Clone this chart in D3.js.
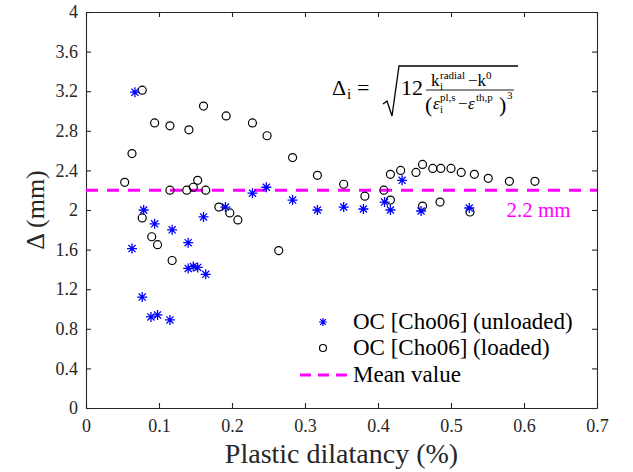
<!DOCTYPE html>
<html>
<head>
<meta charset="utf-8">
<script src="https://cdn.jsdelivr.net/npm/d3@7"></script>
<style>
  html, body { margin: 0; padding: 0; background: #fff; }
  svg text { font-family: 'Liberation Serif', 'Times New Roman', serif; }
</style>
</head>
<body>
<svg id="chart" width="633" height="472"></svg>
<script>
// OC [Cho06] unloaded (blue stars)
const unloadedX = [0.067, 0.079, 0.094, 0.118, 0.063, 0.140, 0.161, 0.140, 0.147, 0.153, 0.164, 0.077, 0.089, 0.098, 0.115,
    0.191, 0.228, 0.247, 0.283, 0.317, 0.353, 0.380, 0.409, 0.417, 0.433, 0.459, 0.525];
const unloadedY = [3.19, 2.00, 1.86, 1.80, 1.61, 1.67, 1.93, 1.41, 1.43, 1.42, 1.35, 1.12, 0.92, 0.94, 0.89,
    2.03, 2.17, 2.23, 2.10, 2.00, 2.03, 2.01, 2.08, 2.00, 2.30, 1.99, 2.02];

// OC [Cho06] loaded (black circles)
const loadedX = [0.053, 0.063, 0.077, 0.094, 0.115, 0.141, 0.161, 0.192, 0.228, 0.248, 0.115, 0.138, 0.147, 0.153, 0.164,
    0.077, 0.090, 0.098, 0.118, 0.182, 0.197, 0.208, 0.264, 0.283, 0.317, 0.353, 0.382, 0.408, 0.417, 0.417,
    0.431, 0.452, 0.461, 0.461, 0.475, 0.486, 0.485, 0.500, 0.514, 0.532, 0.551, 0.580, 0.615, 0.526];
const loadedY = [2.28, 2.57, 3.21, 2.88, 2.85, 2.81, 3.05, 2.95, 2.88, 2.75, 2.20, 2.20, 2.23, 2.30, 2.20,
    1.92, 1.73, 1.65, 1.49, 2.03, 1.97, 1.90, 1.59, 2.53, 2.35, 2.26, 2.14, 2.20, 2.36, 2.10,
    2.40, 2.38, 2.46, 2.04, 2.42, 2.42, 2.08, 2.42, 2.38, 2.36, 2.32, 2.29, 2.29, 1.98];

const meanValue = 2.2;
const xTicks = [0, 0.1, 0.2, 0.3, 0.4, 0.5, 0.6, 0.7];
const yTicks = [0, 0.4, 0.8, 1.2, 1.6, 2, 2.4, 2.8, 3.2, 3.6, 4];
const legendLabels = ['OC [Cho06] (unloaded)', 'OC [Cho06] (loaded)', 'Mean value'];

const BLUE = '#0000ff';
const MAGENTA = '#ff00ff';
const AXIS = '#262626';

const MARGIN = { top: 12, right: 36, bottom: 64, left: 86 };
const W = 633, H = 472;
const innerW = W - MARGIN.left - MARGIN.right;
const innerH = H - MARGIN.top - MARGIN.bottom;

const svg = d3.select('#chart');
const g = svg.append('g').attr('transform', `translate(${MARGIN.left},${MARGIN.top})`);

const x = d3.scaleLinear().domain([0, 0.7]).range([0, innerW]);
const y = d3.scaleLinear().domain([0, 4]).range([innerH, 0]);

const fmt = d => String(+d.toFixed(1));

// axes, ticks inward on all four sides
const bottomAx = g.append('g').attr('transform', `translate(0,${innerH})`)
    .call(d3.axisBottom(x).tickValues(xTicks).tickFormat(fmt).tickSizeInner(-5).tickSizeOuter(0));
const topAx = g.append('g')
    .call(d3.axisTop(x).tickValues(xTicks).tickFormat('').tickSizeInner(-5).tickSizeOuter(0));
const leftAx = g.append('g')
    .call(d3.axisLeft(y).tickValues(yTicks).tickFormat(fmt).tickSizeInner(-5).tickSizeOuter(0));
const rightAx = g.append('g').attr('transform', `translate(${innerW},0)`)
    .call(d3.axisRight(y).tickValues(yTicks).tickFormat('').tickSizeInner(-5).tickSizeOuter(0));

[bottomAx, topAx, leftAx, rightAx].forEach(a => {
    a.select('.domain').attr('stroke', AXIS).attr('stroke-width', 1.1);
    a.selectAll('.tick line').attr('stroke', AXIS).attr('stroke-width', 1.1);
});

bottomAx.selectAll('.tick text')
    .attr('y', 24).attr('dy', 0)
    .attr('fill', AXIS)
    .style('font-family', "'Liberation Serif', serif")
    .style('font-size', '18px');
leftAx.selectAll('.tick text')
    .attr('x', -8).attr('dy', '0.32em')
    .attr('fill', AXIS)
    .style('font-family', "'Liberation Serif', serif")
    .style('font-size', '18px');

// axis labels
svg.append('text')
    .attr('x', MARGIN.left + innerW / 2)
    .attr('y', 463)
    .attr('text-anchor', 'middle')
    .attr('fill', AXIS)
    .style('font-size', '28px')
    .text('Plastic dilatancy (%)');

svg.append('text')
    .attr('transform', `translate(44,${MARGIN.top + innerH / 2}) rotate(-90)`)
    .attr('text-anchor', 'middle')
    .attr('fill', AXIS)
    .style('font-size', '26px')
    .text('\u0394 (mm)');

// mean line
g.append('line')
    .attr('x1', 0).attr('x2', innerW)
    .attr('y1', y(meanValue)).attr('y2', y(meanValue))
    .attr('stroke', MAGENTA)
    .attr('stroke-width', 3)
    .attr('stroke-dasharray', '12,9');

g.append('text')
    .attr('x', x(0.62))
    .attr('y', y(meanValue) + 27)
    .attr('text-anchor', 'middle')
    .attr('fill', MAGENTA)
    .style('font-size', '21px')
    .text('2.2 mm');

// markers
function starPath(r) {
    const d = r * Math.SQRT1_2;
    return `M${-r},0L${r},0M0,${-r}L0,${r}M${-d},${-d}L${d},${d}M${-d},${d}L${d},${-d}`;
}

const loaded = loadedX.map((v, i) => ({ x: v, y: loadedY[i] }));
const unloaded = unloadedX.map((v, i) => ({ x: v, y: unloadedY[i] }));

g.selectAll('circle.loaded')
    .data(loaded)
    .join('circle')
    .attr('class', 'loaded')
    .attr('cx', d => x(d.x))
    .attr('cy', d => y(d.y))
    .attr('r', 4)
    .attr('fill', 'none')
    .attr('stroke', '#000')
    .attr('stroke-width', 1.2);

g.selectAll('path.unloaded')
    .data(unloaded)
    .join('path')
    .attr('class', 'unloaded')
    .attr('transform', d => `translate(${x(d.x)},${y(d.y)})`)
    .attr('d', starPath(5))
    .attr('fill', 'none')
    .attr('stroke', BLUE)
    .attr('stroke-width', 1.3);

// legend
const leg = svg.append('g');
const legRows = [322, 348, 375];
leg.append('path')
    .attr('transform', `translate(323,${legRows[0]})`)
    .attr('d', starPath(4))
    .attr('stroke', BLUE).attr('stroke-width', 1.2).attr('fill', 'none');
leg.append('circle')
    .attr('cx', 323).attr('cy', legRows[1]).attr('r', 3.5)
    .attr('fill', 'none').attr('stroke', '#000').attr('stroke-width', 1.2);
leg.append('line')
    .attr('x1', 300).attr('x2', 347).attr('y1', legRows[2]).attr('y2', legRows[2])
    .attr('stroke', MAGENTA).attr('stroke-width', 3).attr('stroke-dasharray', '11,7');
leg.selectAll('text')
    .data(legendLabels)
    .join('text')
    .attr('x', 353)
    .attr('y', (d, i) => legRows[i] + 7)
    .attr('fill', '#000')
    .style('font-size', '23px')
    .text(d => d);

// formula annotation
const f = svg.append('g').attr('fill', '#000');
function ft(tx, ty, size, str, italic) {
    f.append('text').attr('x', tx).attr('y', ty)
        .style('font-size', size + 'px')
        .style('font-style', italic ? 'italic' : 'normal')
        .text(str);
}
ft(332, 95, 22, '\u0394');
ft(347, 99, 15, 'i');
ft(357, 95, 22, '=');
f.append('path')
    .attr('d', 'M383,104 L387,101 L392,116 L399,66 L518,66')
    .attr('fill', 'none').attr('stroke', '#000').attr('stroke-width', 1.3)
    .attr('stroke-linejoin', 'miter');
ft(401, 95, 22, '12');
f.append('line').attr('x1', 426).attr('x2', 514).attr('y1', 90).attr('y2', 90)
    .attr('stroke', '#000').attr('stroke-width', 0.9);
// numerator
ft(431, 86, 17, 'k');
ft(440, 79, 11, 'radial');
ft(440, 90, 11, 'i');
ft(468, 86, 17, '\u2212k');
ft(486, 79, 11, '0');
// denominator
ft(425, 112, 22, '(');
ft(433, 109, 17, '\u03b5', true);
ft(440, 101, 11, 'pl,s');
ft(440, 113, 11, 'i');
ft(458, 109, 17, '\u2212');
ft(468, 109, 17, '\u03b5', true);
ft(476, 101, 11, 'th,p');
ft(499, 112, 22, ')');
ft(507, 99, 11, '3');
</script>
</body>
</html>
